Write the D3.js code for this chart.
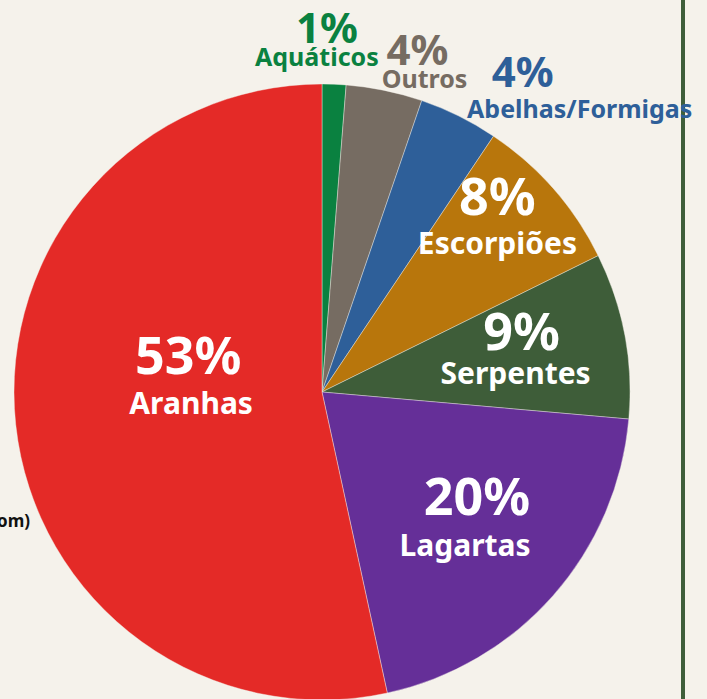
<!DOCTYPE html>
<html lang="pt">
<head>
<meta charset="UTF-8">
<title>Acidentes por animais peçonhentos</title>
<script src="https://d3js.org/d3.v7.min.js"></script>
<style>
    html, body { margin: 0; padding: 0; background: #F5F2EB; }
    svg { display: block; }
    text { font-family: 'Noto Sans', 'Open Sans', sans-serif; font-weight: 700; }
</style>
</head>
<body>
<svg id="chart" width="707" height="699"></svg>
<script>
// categorias e valores (sentido horário a partir do topo)
const categories = ["Aquáticos", "Outros", "Abelhas/Formigas", "Escorpiões", "Serpentes", "Lagartas", "Aranhas"];
const values = [1.25, 4.0, 4.15, 8.3, 8.7, 20.2, 53.4];
const pctLabels = ["1%", "4%", "4%", "8%", "9%", "20%", "53%"];
const colors = ["#0A8140", "#766C62", "#2E5F99", "#B8760C", "#3E5D39", "#652F98", "#E42A27"];
const outside = ["Aquáticos", "Outros", "Abelhas/Formigas"];

// ajustes finos de posição dos rótulos: [dx, dy, nomeDx, nomeDy]
const nudges = {
    "Aquáticos": [-8, -21, -10, 23],
    "Outros": [29, -6, 7, 23],
    "Abelhas/Formigas": [55, -11, 57, 31],
    "Escorpiões": [25, -45, 0, 39],
    "Serpentes": [3, -5, -6, 34],
    "Lagartas": [5, -9, -12, 41],
    "Aranhas": [65, -39, 3, 40]
};

const svg = d3.select("#chart");
const cx = 322, cy = 392, R = 308;

// linha vertical verde à direita
svg.append("rect")
    .attr("x", 681).attr("y", 0)
    .attr("width", 4).attr("height", 699)
    .attr("fill", "#3F5E3A");

// texto cortado à esquerda
svg.append("text")
    .attr("x", 30).attr("y", 527)
    .attr("text-anchor", "end")
    .attr("font-size", 17)
    .attr("fill", "#111")
    .text("om)");

const data = categories.map((c, i) => ({ name: c, value: values[i], pct: pctLabels[i], color: colors[i] }));

const pie = d3.pie().sort(null).value(d => d.value);
const arcs = pie(data);

const arc = d3.arc().innerRadius(0).outerRadius(R);
const inLabel = d3.arc().innerRadius(200).outerRadius(200);
const outLabel = d3.arc().innerRadius(R + 20).outerRadius(R + 20);

const g = svg.append("g").attr("transform", `translate(${cx},${cy})`);

g.selectAll("path")
    .data(arcs)
    .enter().append("path")
    .attr("d", arc)
    .attr("fill", d => d.data.color)
    .attr("stroke", "#F5F2EB")
    .attr("stroke-width", 0.4);

const labels = g.selectAll(".lbl")
    .data(arcs)
    .enter().append("g")
    .attr("class", "lbl")
    .attr("transform", d => {
        const isOut = outside.includes(d.data.name);
        const p = (isOut ? outLabel : inLabel).centroid(d);
        const n = nudges[d.data.name];
        return `translate(${p[0] + n[0]},${p[1] + n[1]})`;
    });

labels.append("text")
    .attr("text-anchor", "middle")
    .attr("font-size", d => outside.includes(d.data.name) ? 42 : 52)
    .attr("fill", d => outside.includes(d.data.name) ? d.data.color : "#fff")
    .text(d => d.data.pct);

labels.append("text")
    .attr("text-anchor", "middle")
    .attr("x", d => nudges[d.data.name][2])
    .attr("y", d => nudges[d.data.name][3])
    .attr("font-size", d => outside.includes(d.data.name) ? 25 : 30)
    .attr("fill", d => outside.includes(d.data.name) ? d.data.color : "#fff")
    .text(d => d.data.name);
</script>
</body>
</html>
